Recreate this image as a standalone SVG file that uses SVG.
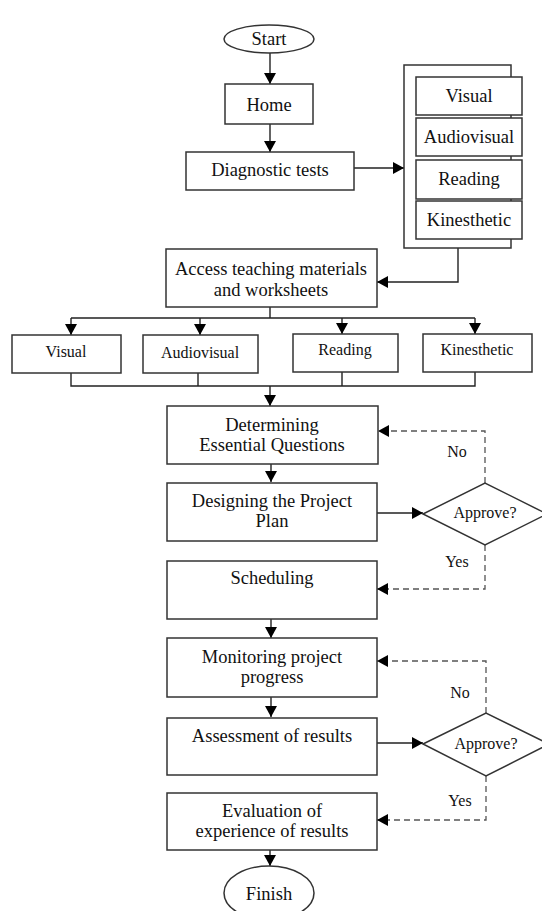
<svg xmlns="http://www.w3.org/2000/svg" width="542" height="911" viewBox="0 0 542 911">
<style>
.box{fill:#fff;stroke:#333;stroke-width:1.5}
.t{font-family:"Liberation Serif","Times New Roman",serif;font-size:18.5px;fill:#111;text-anchor:middle}
.s{font-family:"Liberation Serif","Times New Roman",serif;font-size:16px;fill:#111;text-anchor:middle}
.c{fill:none;stroke:#222;stroke-width:1.4}
.d{fill:none;stroke:#555;stroke-width:1.3;stroke-dasharray:6 4}
</style>
<defs>
<marker id="ah" markerUnits="userSpaceOnUse" markerWidth="12" markerHeight="12" refX="11" refY="6" orient="auto">
<path d="M0,0 L11,6 L0,12 z" fill="#000"/>
</marker>
</defs>
<rect width="542" height="911" fill="#fff"/>
<g id="connectors">
<path class="c" d="M270,53 V84" marker-end="url(#ah)"/>
<path class="c" d="M270,124 V152" marker-end="url(#ah)"/>
<path class="c" d="M354,168 H404" marker-end="url(#ah)"/>
<path class="c" d="M458,248 V282 H377" marker-end="url(#ah)"/>
<path class="c" d="M270,307 V318 M71,318 H475"/>
<path class="c" d="M71,318 V335" marker-end="url(#ah)"/>
<path class="c" d="M200,318 V335" marker-end="url(#ah)"/>
<path class="c" d="M342,318 V334" marker-end="url(#ah)"/>
<path class="c" d="M475,318 V334" marker-end="url(#ah)"/>
<path class="c" d="M71,373 V386 H475 V372 M198,373 V386 M342,372 V386"/>
<path class="c" d="M270,386 V406" marker-end="url(#ah)"/>
<path class="c" d="M271,464 V482" marker-end="url(#ah)"/>
<path class="c" d="M377,513 H423" marker-end="url(#ah)"/>
<path class="d" d="M485,483 V431 H378" marker-end="url(#ah)"/>
<path class="d" d="M485,545 V589 H377" marker-end="url(#ah)"/>
<path class="c" d="M271,619 V638" marker-end="url(#ah)"/>
<path class="c" d="M271,697 V717" marker-end="url(#ah)"/>
<path class="c" d="M377,743 H423" marker-end="url(#ah)"/>
<path class="d" d="M486,713 V661 H377" marker-end="url(#ah)"/>
<path class="d" d="M486,776 V820 H377" marker-end="url(#ah)"/>
<path class="c" d="M270,850 V866" marker-end="url(#ah)"/>
</g>
<g id="start"><ellipse class="box" cx="269" cy="39" rx="45" ry="14"/><text class="t" x="269" y="45">Start</text></g>
<g id="home"><rect class="box" x="225" y="84" width="88" height="40"/><text class="t" x="269" y="111">Home</text></g>
<g id="diagnostic"><rect class="box" x="186" y="152" width="168" height="38"/><text class="t" x="270" y="176">Diagnostic tests</text></g>
<g id="styles-stack">
<rect class="box" x="404" y="65" width="107" height="183"/>
<g id="s-visual"><rect class="box" x="416" y="77" width="106" height="38"/><text class="t" x="469" y="102">Visual</text></g>
<g id="s-audiovisual"><rect class="box" x="416" y="118" width="106" height="38"/><text class="t" x="469" y="143">Audiovisual</text></g>
<g id="s-reading"><rect class="box" x="416" y="160" width="106" height="39"/><text class="t" x="469" y="185">Reading</text></g>
<g id="s-kinesthetic"><rect class="box" x="416" y="201" width="106" height="38"/><text class="t" x="469" y="226">Kinesthetic</text></g>
</g>
<g id="access"><rect class="box" x="166" y="249" width="211" height="58"/><text class="t" x="271" y="275">Access teaching materials</text><text class="t" x="271" y="296">and worksheets</text></g>
<g id="r-visual"><rect class="box" x="12" y="335" width="109" height="38"/><text class="s" x="66" y="357">Visual</text></g>
<g id="r-audiovisual"><rect class="box" x="143" y="335" width="115" height="38"/><text class="s" x="200" y="358">Audiovisual</text></g>
<g id="r-reading"><rect class="box" x="293" y="334" width="105" height="38"/><text class="s" x="345" y="355">Reading</text></g>
<g id="r-kinesthetic"><rect class="box" x="423" y="334" width="109" height="38"/><text class="s" x="477" y="355">Kinesthetic</text></g>
<g id="determining"><rect class="box" x="167" y="406" width="211" height="58"/><text class="t" x="272" y="431">Determining</text><text class="t" x="272" y="451">Essential Questions</text></g>
<g id="designing"><rect class="box" x="167" y="483" width="210" height="58"/><text class="t" x="272" y="507">Designing the Project</text><text class="t" x="272" y="527">Plan</text></g>
<g id="approve1"><polygon class="box" points="423,514 485,483 547,514 485,545"/><text class="s" x="485" y="518">Approve?</text></g>
<text class="s" x="457" y="457">No</text>
<text class="s" x="457" y="567">Yes</text>
<g id="scheduling"><rect class="box" x="167" y="561" width="210" height="58"/><text class="t" x="272" y="584">Scheduling</text></g>
<g id="monitoring"><rect class="box" x="167" y="638" width="210" height="59"/><text class="t" x="272" y="663">Monitoring project</text><text class="t" x="272" y="683">progress</text></g>
<g id="assessment"><rect class="box" x="167" y="718" width="210" height="57"/><text class="t" x="272" y="742">Assessment of results</text></g>
<g id="approve2"><polygon class="box" points="423,744 486,713 549,744 486,776"/><text class="s" x="486" y="749">Approve?</text></g>
<text class="s" x="460" y="698">No</text>
<text class="s" x="460" y="806">Yes</text>
<g id="evaluation"><rect class="box" x="167" y="793" width="210" height="57"/><text class="t" x="272" y="817">Evaluation of</text><text class="t" x="272" y="837">experience of results</text></g>
<g id="finish"><ellipse class="box" cx="269" cy="893" rx="45" ry="27"/><text class="t" x="269" y="900">Finish</text></g>
</svg>
